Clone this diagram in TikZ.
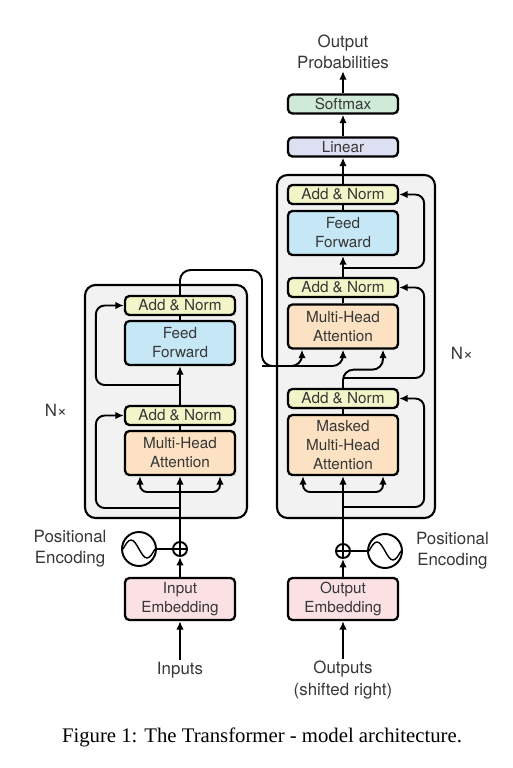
\documentclass[tikz,border=0pt]{standalone}
\usepackage{fontspec}
\setmainfont{Liberation Serif}
\setsansfont{TeX Gyre Heros}
\usetikzlibrary{arrows.meta, positioning, calc}

\definecolor{normyellow}{RGB}{242,245,199}
\definecolor{ffblue}{RGB}{197,231,246}
\definecolor{attorange}{RGB}{252,225,194}
\definecolor{embpink}{RGB}{251,224,228}
\definecolor{linlav}{RGB}{221,224,243}
\definecolor{softgreen}{RGB}{207,235,215}
\definecolor{layergray}{RGB}{242,242,242}
\definecolor{txtgray}{RGB}{55,55,55}

\begin{document}
\begin{tikzpicture}[x=0.02cm, y=-0.02cm,
  blk/.style={draw, line width=1.3pt, rounded corners=2.5pt, minimum width=2.2cm,
    inner sep=0pt, align=center, text=txtgray,
    font=\sffamily\fontsize{8.7}{10.8}\selectfont},
  normblk/.style={blk, fill=normyellow, minimum height=0.38cm},
  ffblk/.style={blk, fill=ffblue, minimum height=0.88cm},
  attblk/.style={blk, fill=attorange, minimum height=0.88cm},
  embblk/.style={blk, fill=embpink, minimum height=0.84cm},
  layerbox/.style={draw, line width=1.2pt, fill=layergray, rounded corners=6pt},
  lbl/.style={align=center, text=txtgray, inner sep=1pt,
    font=\sffamily\fontsize{9.6}{12}\selectfont},
  addsym/.style={draw, circle, line width=1.1pt, minimum size=0.28cm, inner sep=0pt,
    path picture={\draw[line width=0.8pt]
      (path picture bounding box.north) -- (path picture bounding box.south)
      (path picture bounding box.west) -- (path picture bounding box.east);}},
  pesym/.style={draw, circle, line width=1.1pt, minimum size=0.68cm, inner sep=0pt},
  wire/.style={line width=1.1pt},
  arr/.style={wire, -{Latex[length=1.7mm, width=1.5mm]}},
  res/.style={arr, rounded corners=5pt},
]
\useasboundingbox (0,0) rectangle (513,768);

% Layer boxes
\draw[layerbox] (85,285) rectangle (247,518);
\draw[layerbox] (277,175) rectangle (435,518);

% Encoder
\node[embblk] (inEmb) at (180,599) {Input\\Embedding};
\node[addsym] (inAdd) at (180,549) {};
\node[pesym] (inPE) at (139,549) {};
\node[lbl, left=0.25cm of inPE] (inPElbl) {Positional\\Encoding};
\node[lbl] (inputs) at (180,670) {Inputs};
\node[attblk] (encMHA) at (180,453) {Multi-Head\\Attention};
\node[normblk] (encNorm1) at (180,415.5) {Add \& Norm};
\node[ffblk] (encFF) at (180,343) {Feed\\Forward};
\node[normblk] (encNorm2) at (180,305.5) {Add \& Norm};
\node[lbl] (encN) at (56,410) {N×};

% Decoder
\node[embblk] (outEmb) at (343,599) {Output\\Embedding};
\node[addsym] (outAdd) at (343,551) {};
\node[pesym] (outPE) at (385,551) {};
\node[lbl, right=0.22cm of outPE] (outPElbl) {Positional\\Encoding};
\node[lbl] (outputs) at (343,680) {Outputs\\(shifted right)};
\node[attblk, minimum height=1.2cm] (decMHA1) at (343,445) {Masked\\Multi-Head\\Attention};
\node[normblk] (decNorm1) at (343,398.5) {Add \& Norm};
\node[attblk] (decMHA2) at (343,326.5) {Multi-Head\\Attention};
\node[normblk] (decNorm2) at (343,287.5) {Add \& Norm};
\node[ffblk] (decFF) at (343,233) {Feed\\Forward};
\node[normblk] (decNorm3) at (343,194.5) {Add \& Norm};
\node[lbl] (decN) at (462,353) {N×};

% Output head
\node[blk, fill=linlav, minimum height=0.38cm] (linear) at (343,147) {Linear};
\node[blk, fill=softgreen, minimum height=0.38cm] (softmax) at (343,104) {Softmax};
\node[lbl] (outprob) at (343,52) {Output\\Probabilities};

% Sine waves
\foreach \pe in {inPE, outPE} {
  \draw[line width=0.8pt] ($(\pe.center)+(-16,0)$) sin ++(8,-9) cos ++(8,9)
    sin ++(8,9) cos ++(8,-9);
}

% Branch points
\coordinate (encFork) at (180,492);
\coordinate (encRes1) at (180,508);
\coordinate (encRes2) at (180,385);
\coordinate (encTop) at (262,270);
\coordinate (crossIn) at (262,366);
\coordinate (decFork) at (343,492);
\coordinate (decRes1) at (343,507);
\coordinate (decRes2) at (343,378);
\coordinate (decRes3) at (343,268);
\coordinate (encL) at ($(encMHA.south)+(-40,0)$);
\coordinate (encR) at ($(encMHA.south)+(40,0)$);
\coordinate (decL) at ($(decMHA1.south)+(-40,0)$);
\coordinate (decR) at ($(decMHA1.south)+(40,0)$);
\coordinate (crossK) at ($(decMHA2.south)+(-41,0)$);
\coordinate (crossQ) at ($(decMHA2.south)+(40,0)$);

% Encoder connectors
\draw[arr] (inputs) -- (inEmb);
\draw[arr] (inEmb) -- (inAdd);
\draw[wire] (inPE) -- (inAdd);
\draw[arr] (inAdd) -- (encMHA);
\draw[arr, rounded corners=4pt] (encFork) -| (encL);
\draw[arr, rounded corners=4pt] (encFork) -| (encR);
\draw[res] (encRes1) -| ($(encNorm1.west)+(-28,0)$) -- (encNorm1.west);
\draw[wire] (encMHA) -- (encNorm1);
\draw[arr] (encNorm1) -- (encFF);
\draw[res] (encRes2) -| ($(encNorm2.west)+(-28,0)$) -- (encNorm2.west);
\draw[wire] (encFF) -- (encNorm2);
\draw[arr, rounded corners=6pt] (encNorm2.north) |- (encTop) -- (crossIn) -| (crossK);
\draw[arr, rounded corners=6pt] (crossIn) -| (decMHA2.south);

% Decoder connectors
\draw[arr] (outputs) -- (outEmb);
\draw[arr] (outEmb) -- (outAdd);
\draw[wire] (outPE) -- (outAdd);
\draw[arr] (outAdd) -- (decMHA1);
\draw[arr, rounded corners=4pt] (decFork) -| (decL);
\draw[arr, rounded corners=4pt] (decFork) -| (decR);
\draw[res] (decRes1) -| ($(decNorm1.east)+(25,0)$) -- (decNorm1.east);
\draw[wire] (decMHA1) -- (decNorm1);
\draw[arr, rounded corners=6pt] (decNorm1.north) |- ($(crossQ)+(0,20)$) -- (crossQ);
\draw[res] (decRes2) -| ($(decNorm2.east)+(25,0)$) -- (decNorm2.east);
\draw[wire] (decMHA2) -- (decNorm2);
\draw[arr] (decNorm2) -- (decFF);
\draw[res] (decRes3) -| ($(decNorm3.east)+(25,0)$) -- (decNorm3.east);
\draw[wire] (decFF) -- (decNorm3);
\draw[arr] (decNorm3) -- (linear);
\draw[arr] (linear) -- (softmax);
\draw[arr] (softmax) -- (outprob);

% Caption
\node[font=\fontsize{11.8}{14}\selectfont] (caption) at (262,737)
  {Figure 1: The Transformer - model architecture.};
\end{tikzpicture}
\end{document}
